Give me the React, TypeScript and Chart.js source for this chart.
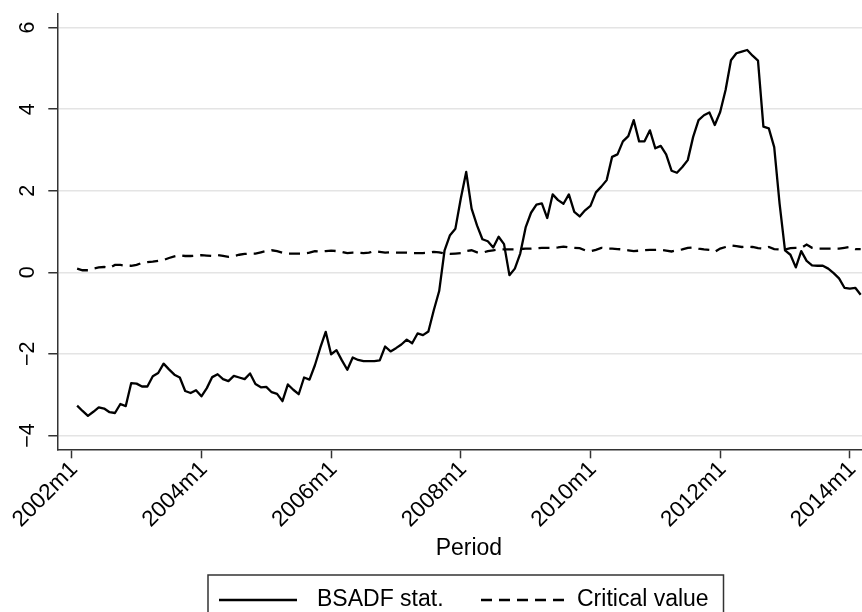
import React, { useEffect, useRef } from "react";
import { Chart, registerables } from "chart.js";

Chart.register(...registerables);

// ---- data ----
const FIRST_MONTH_INDEX = 1; // 2002m2 (months counted from 2002m1 = 0)

const bsadf: number[] = [
  -3.27, -3.40, -3.52, -3.42, -3.31, -3.34, -3.43, -3.45, -3.23, -3.28, -2.72, -2.73,
  -2.80, -2.80, -2.55, -2.47, -2.24, -2.38, -2.51, -2.58, -2.91, -2.96, -2.89, -3.04,
  -2.84, -2.57, -2.50, -2.62, -2.67, -2.54, -2.58, -2.62, -2.48, -2.74, -2.82, -2.81,
  -2.94, -2.98, -3.16, -2.75, -2.88, -2.99, -2.58, -2.63, -2.28, -1.85, -1.46, -2.01,
  -1.91, -2.16, -2.39, -2.09, -2.15, -2.18, -2.18, -2.18, -2.16, -1.82, -1.94, -1.86,
  -1.77, -1.65, -1.74, -1.50, -1.54, -1.45, -0.93, -0.46, 0.54, 0.91, 1.07, 1.81,
  2.46, 1.56, 1.15, 0.81, 0.76, 0.61, 0.87, 0.69, -0.07, 0.09, 0.46, 1.10,
  1.46, 1.66, 1.69, 1.33, 1.91, 1.77, 1.68, 1.91, 1.48, 1.37, 1.52, 1.63,
  1.96, 2.10, 2.26, 2.83, 2.89, 3.21, 3.34, 3.73, 3.21, 3.21, 3.48, 3.04,
  3.10, 2.89, 2.49, 2.44, 2.58, 2.75, 3.32, 3.73, 3.85, 3.92, 3.61, 3.93,
  4.47, 5.20, 5.37, 5.41, 5.45, 5.31, 5.19, 3.57, 3.53, 3.07, 1.68, 0.54,
  0.43, 0.12, 0.52, 0.28, 0.17, 0.16, 0.16, 0.09, -0.02, -0.15, -0.38, -0.40,
  -0.38, -0.55,
];

const criticalValue: number[] = [
  0.09, 0.05, 0.05, 0.09, 0.12, 0.13, 0.11, 0.18, 0.18, 0.16, 0.16, 0.18,
  0.23, 0.25, 0.26, 0.28, 0.30, 0.35, 0.39, 0.42, 0.40, 0.40, 0.41, 0.42,
  0.41, 0.40, 0.42, 0.40, 0.38, 0.40, 0.43, 0.45, 0.46, 0.46, 0.49, 0.52,
  0.54, 0.52, 0.48, 0.46, 0.46, 0.46, 0.46, 0.48, 0.52, 0.51, 0.52, 0.53,
  0.52, 0.50, 0.47, 0.48, 0.48, 0.47, 0.48, 0.52, 0.50, 0.48, 0.49, 0.48,
  0.48, 0.48, 0.47, 0.47, 0.47, 0.48, 0.50, 0.49, 0.46, 0.45, 0.46, 0.47,
  0.52, 0.54, 0.49, 0.48, 0.52, 0.54, 0.56, 0.56, 0.56, 0.56, 0.57, 0.58,
  0.58, 0.59, 0.60, 0.60, 0.60, 0.61, 0.63, 0.61, 0.60, 0.59, 0.54, 0.52,
  0.55, 0.60, 0.58, 0.58, 0.57, 0.56, 0.54, 0.52, 0.53, 0.54, 0.55, 0.55,
  0.55, 0.53, 0.51, 0.54, 0.56, 0.60, 0.61, 0.58, 0.56, 0.55, 0.50, 0.58,
  0.62, 0.66, 0.64, 0.62, 0.63, 0.62, 0.59, 0.58, 0.62, 0.57, 0.56, 0.56,
  0.59, 0.60, 0.60, 0.68, 0.60, 0.58, 0.58, 0.58, 0.58, 0.58, 0.60, 0.62,
  0.57, 0.57,
];

const xTickValues: number[] = [0, 24, 48, 72, 96, 120, 144];
const xTickLabels: string[] = ["2002m1", "2004m1", "2006m1", "2008m1", "2010m1", "2012m1", "2014m1"];
const yTickValues: number[] = [-4, -2, 0, 2, 4, 6];
const yTickLabels: string[] = ["\u22124", "\u22122", "0", "2", "4", "6"];
const seriesNames: string[] = ["BSADF stat.", "Critical value"];
const xTitle = "Period";

// ---- styles ----
const FONT = '"Liberation Sans", Arial, Helvetica, sans-serif';
const AXIS_COLOR = "#333333";
const GRID_COLOR = "#e4e4e4";
const DASH = [11, 7];
const LINE_W = 2.3;
const CANVAS_W = 900;
const CANVAS_H = 612;

function toPoints(values: number[]) {
  return values.map((v, i) => ({ x: FIRST_MONTH_INDEX + i, y: v }));
}

const stataPlugin = {
  id: "stataDecor",
  afterDraw(chart: any) {
    const ctx = chart.ctx as CanvasRenderingContext2D;
    const yScale = chart.scales.y;
    const area = chart.chartArea;
    ctx.save();
    // rotated y tick labels
    ctx.fillStyle = "#000";
    ctx.font = `21.5px ${FONT}`;
    ctx.textAlign = "center";
    ctx.textBaseline = "middle";
    yScale.ticks.forEach((t: any) => {
      const idx = yTickValues.indexOf(t.value);
      if (idx < 0) return;
      const py = yScale.getPixelForValue(t.value);
      ctx.save();
      ctx.translate(area.left - 29, py);
      ctx.rotate(-Math.PI / 2);
      ctx.fillText(yTickLabels[idx], 0, 0);
      ctx.restore();
    });

    // legend box
    const boxL = 208, boxR = 723.5, boxT = 575, boxB = 625;
    const cy = 600;
    ctx.strokeStyle = AXIS_COLOR;
    ctx.lineWidth = 1.5;
    ctx.strokeRect(boxL, boxT, boxR - boxL, boxB - boxT);

    const ds = chart.data.datasets;
    const keys = [
      { x0: 219, x1: 297, tx: 317 },
      { x0: 481, x1: 565, tx: 577 },
    ];
    ctx.font = `23px ${FONT}`;
    ctx.textAlign = "left";
    keys.forEach((k, i) => {
      const d = ds[i];
      ctx.save();
      ctx.strokeStyle = d.borderColor;
      ctx.lineWidth = d.borderWidth;
      ctx.setLineDash(d.borderDash || []);
      ctx.beginPath();
      ctx.moveTo(k.x0, cy);
      ctx.lineTo(k.x1, cy);
      ctx.stroke();
      ctx.restore();
      ctx.fillStyle = "#000";
      ctx.fillText(d.label, k.tx, cy);
    });
    ctx.restore();
  },
};

export default function App() {
  const canvasRef = useRef<HTMLCanvasElement | null>(null);

  useEffect(() => {
    if (!canvasRef.current) return;
    const chart = new Chart(canvasRef.current, {
      type: "line",
      data: {
        datasets: [
          {
            label: seriesNames[0],
            data: toPoints(bsadf),
            borderColor: "#000000",
            borderWidth: LINE_W,
            pointRadius: 0,
            tension: 0,
            borderJoinStyle: "round",
          },
          {
            label: seriesNames[1],
            data: toPoints(criticalValue),
            borderColor: "#000000",
            borderWidth: LINE_W,
            borderDash: DASH,
            pointRadius: 0,
            tension: 0,
          },
        ],
      },
      options: {
        animation: false,
        responsive: false,
        devicePixelRatio: 1,
        layout: { padding: { top: 13.3, right: CANVAS_W - 880.5, bottom: 0, left: 0 } },
        plugins: {
          legend: { display: false },
          tooltip: { enabled: false },
        },
        scales: {
          x: {
            type: "linear",
            min: -2.67,
            max: 149.67,
            afterBuildTicks: (s: any) => {
              s.ticks = xTickValues.map((v) => ({ value: v }));
            },
            afterFit: (s: any) => {
              s.height = CANVAS_H - 449.3;
            },
            ticks: {
              autoSkip: false,
              minRotation: 45,
              maxRotation: 45,
              padding: -2,
              labelOffset: 2.5,
              color: "#000",
              font: { family: FONT, size: 22.5 },
              callback: (v: any) => {
                const i = xTickValues.indexOf(Number(v));
                return i >= 0 ? xTickLabels[i] : "";
              },
            },
            grid: {
              drawOnChartArea: false,
              drawTicks: true,
              tickLength: 9,
              tickColor: AXIS_COLOR,
              tickWidth: 1.5,
            },
            border: { display: true, color: AXIS_COLOR, width: 1.5 },
            title: {
              display: true,
              text: xTitle,
              color: "#000",
              font: { family: FONT, size: 23 },
              padding: { top: 0, bottom: 49.5 },
            },
          },
          y: {
            type: "linear",
            min: -4.34,
            max: 6.35,
            afterBuildTicks: (s: any) => {
              s.ticks = yTickValues.map((v) => ({ value: v }));
            },
            afterFit: (s: any) => {
              s.width = 57.3;
            },
            ticks: { display: false },
            grid: {
              color: GRID_COLOR,
              lineWidth: 1.5,
              drawTicks: true,
              tickLength: 9,
              tickColor: AXIS_COLOR,
              tickWidth: 1.5,
            },
            border: { display: true, color: AXIS_COLOR, width: 1.5 },
          },
        },
      },
      plugins: [stataPlugin],
    } as any);
    return () => chart.destroy();
  }, []);

  return (
    <div style={{ position: "fixed", left: 0, top: 0, width: CANVAS_W, height: CANVAS_H, background: "#fff" }}>
      <canvas ref={canvasRef} width={CANVAS_W} height={CANVAS_H} style={{ display: "block", width: CANVAS_W, height: CANVAS_H }} />
    </div>
  );
}
